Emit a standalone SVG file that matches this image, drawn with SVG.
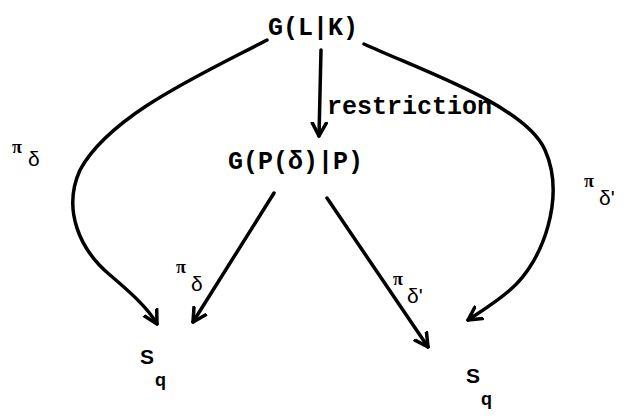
<svg xmlns="http://www.w3.org/2000/svg" width="636" height="416" viewBox="0 0 636 416">
<style>
.t{font-family:"Liberation Mono","DejaVu Sans Mono",monospace;font-weight:bold;font-size:25px;fill:#000}
.pi{font-family:"Liberation Serif",serif;font-weight:bold;font-size:18px;fill:#000}
.d{font-family:"Liberation Sans","DejaVu Sans",sans-serif;font-size:21px;fill:#000}
.s{font-family:"Liberation Sans","DejaVu Sans",sans-serif;font-weight:bold;font-size:21px;fill:#000}
.q{font-family:"Liberation Sans","DejaVu Sans",sans-serif;font-weight:bold;font-size:18px;fill:#000}
.c{fill:none;stroke:#000;stroke-width:3.5;stroke-linecap:round;stroke-linejoin:round}
</style>
<defs>
<marker id="ah" viewBox="-14 -9 16 18" markerWidth="16" markerHeight="18" refX="0" refY="0" orient="auto" markerUnits="userSpaceOnUse">
<path d="M-13,-7 L0,0 L-13,7" fill="none" stroke="#000" stroke-width="3.5" stroke-linecap="round" stroke-linejoin="round"/>
</marker>
</defs>
<g id="n-glk"><text class="t" x="268" y="35">G(L|K)</text></g>
<g id="n-gpp"><text class="t" x="228" y="169">G(P(δ)|P)</text></g>
<g id="n-sq1"><text class="s" x="140" y="364">S</text><text class="q" x="155" y="386">q</text></g>
<g id="n-sq2"><text class="s" x="466" y="383">S</text><text class="q" x="481" y="405">q</text></g>
<g id="connectors">
<path class="c" marker-end="url(#ah)" d="M321,50 L319,136"/>
<path class="c" marker-end="url(#ah)" d="M267,40 C200,75 110,115 80,170 C62,210 80,250 110,275 C130,292 148,308 157,324"/>
<path class="c" marker-end="url(#ah)" d="M364,44 C420,70 525,105 545,150 C565,195 545,260 510,290 C495,303 480,312 468,320"/>
<path class="c" marker-end="url(#ah)" d="M274,193 L193,322"/>
<path class="c" marker-end="url(#ah)" d="M327,198 L428,347"/>
</g>
<g id="labels">
<text class="t" x="327" y="114">restriction</text>
<text class="pi" x="12" y="153">π</text><text class="d" x="28" y="166">δ</text>
<text class="pi" x="176" y="273">π</text><text class="d" x="191" y="291">δ</text>
<text class="pi" x="393" y="285">π</text><text class="d" x="407" y="303">δ'</text>
<text class="pi" x="584" y="187">π</text><text class="d" x="599" y="205">δ'</text>
</g>
</svg>
